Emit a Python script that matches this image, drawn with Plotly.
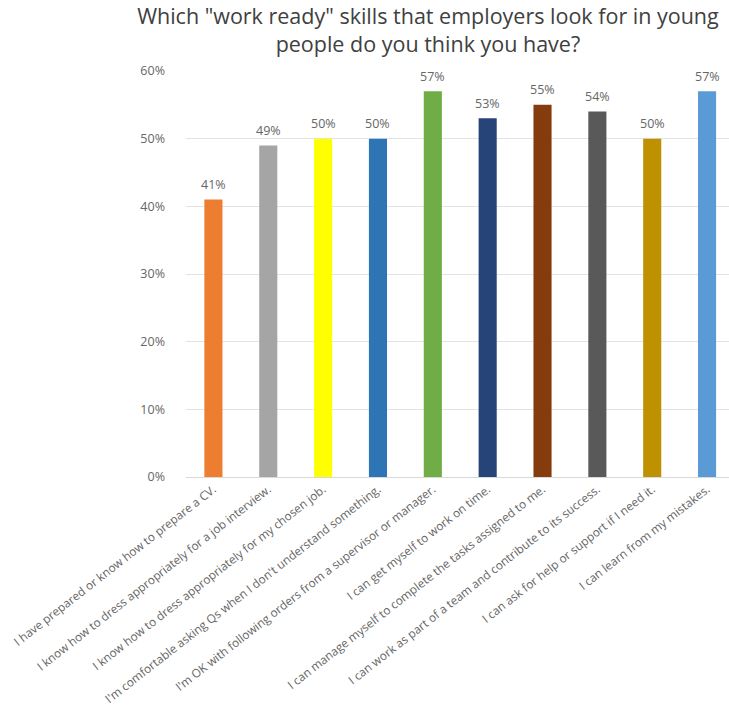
import plotly.graph_objects as go

skills = [
    "I have prepared or know how to prepare a CV.",
    "I know how to dress appropriately for a job interview.",
    "I know how to dress appropriately for my chosen job.",
    "I'm comfortable asking Qs when I don't understand something.",
    "I'm OK with following orders from a supervisor or manager.",
    "I can get myself to work on time.",
    "I can manage myself to complete the tasks assigned to me.",
    "I can work as part of a team and contribute to its success.",
    "I can ask for help or support if I need it.",
    "I can learn from my mistakes.",
]
shares = [0.41, 0.49, 0.50, 0.50, 0.57, 0.53, 0.55, 0.54, 0.50, 0.57]
bar_colors = [
    "#ED7D31", "#A5A5A5", "#FFFF00", "#2E75B6", "#70AD47",
    "#264478", "#843C0C", "#595959", "#BF9000", "#5B9BD5",
]
y_ticks = [0, 0.1, 0.2, 0.3, 0.4, 0.5, 0.6]

font_family = "Open Sans, Lato, sans-serif"
label_color = "#666666"

fig = go.Figure(
    go.Bar(
        x=list(range(len(skills))),
        y=shares,
        marker=dict(color=bar_colors, line=dict(width=0)),
        width=0.33,
        hoverinfo="x+y",
    )
)

# value labels sitting above each bar
for i, v in enumerate(shares):
    fig.add_annotation(
        x=i, y=v, text=f"{v:.0%}", showarrow=False,
        yanchor="middle", yshift=15,
        font=dict(size=12.5, color=label_color, family=font_family),
    )

fig.update_layout(
    width=729,
    height=716,
    margin=dict(l=186, r=0, t=71, b=239),
    paper_bgcolor="white",
    plot_bgcolor="white",
    showlegend=False,
    title=dict(
        text='Which "work ready" skills that employers look for in young<br>people do you think you have?',
        x=0.587,
        xanchor="center",
        y=0.967,
        yanchor="top",
        font=dict(size=21.5, color="#404040", family=font_family),
    ),
    xaxis=dict(
        tickmode="array",
        tickvals=list(range(len(skills))),
        ticktext=skills,
        tickangle=-38,
        tickfont=dict(size=11.8, color=label_color, family=font_family),
        range=[-0.5, 9.4],
        showgrid=False,
        showline=True,
        linecolor="#D9D9D9",
        ticks="",
        automargin=False,
        ticklabeloverflow="allow",
    ),
    yaxis=dict(
        range=[0, 0.6],
        tickvals=y_ticks,
        tickformat=".0%",
        tickfont=dict(size=12.5, color=label_color, family=font_family),
        showgrid=True,
        gridcolor="#E3E3E3",
        zeroline=False,
        ticks="",
        ticklabelstandoff=20,
        automargin=False,
    ),
)

fig.write_html("out.html")
